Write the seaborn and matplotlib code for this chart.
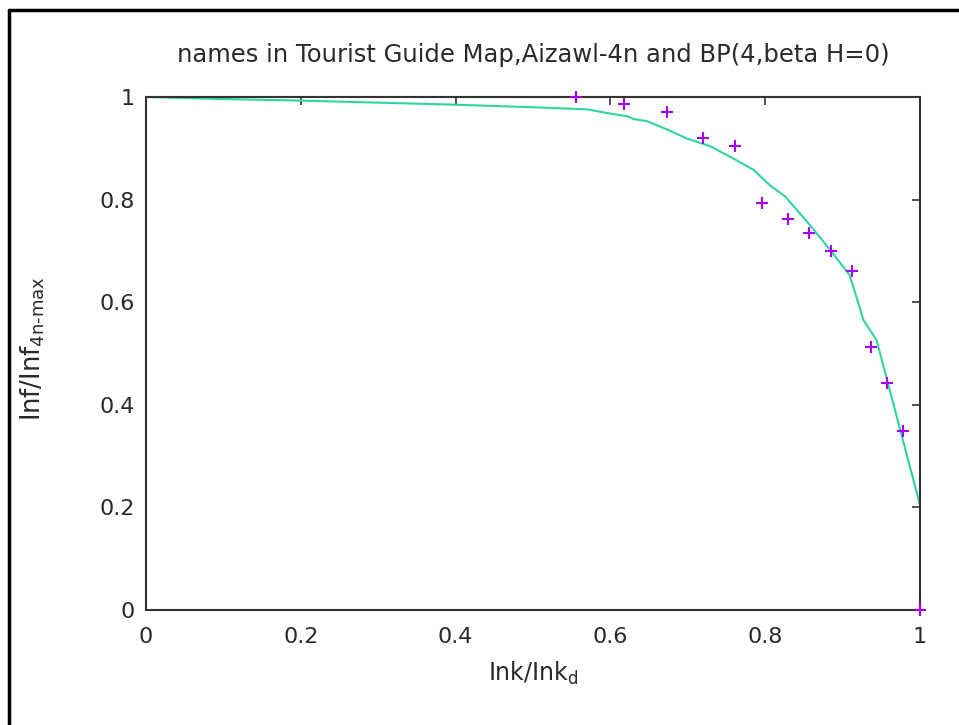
import matplotlib
matplotlib.use("Agg")
import matplotlib.pyplot as plt
import seaborn as sns
import pandas as pd
from matplotlib.lines import Line2D

# points (Aizawl-4n names)
pts_x = [0.556, 0.617, 0.673, 0.720, 0.761, 0.796, 0.829, 0.857, 0.885, 0.912,
         0.937, 0.957, 0.978, 1.0]
pts_y = [1.0, 0.986, 0.971, 0.921, 0.904, 0.793, 0.763, 0.734, 0.700, 0.661,
         0.512, 0.442, 0.349, 0.0]

# BP(4, beta H=0) curve
line_x = [0.0, 0.1, 0.2, 0.3, 0.4, 0.5, 0.57, 0.595, 0.623, 0.63, 0.647, 0.673,
          0.699, 0.729, 0.759, 0.785, 0.806, 0.826, 0.858, 0.884, 0.909, 0.918,
          0.927, 0.944, 1.0]
line_y = [1.0, 0.996, 0.993, 0.989, 0.985, 0.980, 0.976, 0.969, 0.962, 0.957,
          0.953, 0.937, 0.919, 0.904, 0.880, 0.858, 0.828, 0.806, 0.750, 0.702,
          0.653, 0.610, 0.565, 0.526, 0.205]

x_ticks = [0, 0.2, 0.4, 0.6, 0.8, 1]
x_tick_labels = ["0", "0.2", "0.4", "0.6", "0.8", "1"]
y_ticks = [0, 0.2, 0.4, 0.6, 0.8, 1]
y_tick_labels = ["0", "0.2", "0.4", "0.6", "0.8", "1"]

pts_df = pd.DataFrame({"x": pts_x, "y": pts_y})
line_df = pd.DataFrame({"x": line_x, "y": line_y})

sns.set_style("white")
plt.rcParams["font.family"] = ["DejaVu Sans"]

fig = plt.figure(figsize=(9.59, 7.25), dpi=100)
ax = fig.add_axes([0.1522, 0.1586, 0.8071, 0.7076])

sns.lineplot(data=line_df, x="x", y="y", ax=ax, color="#30d4a4", lw=1.5,
             sort=False, zorder=2)
sns.scatterplot(data=pts_df, x="x", y="y", ax=ax, marker="+", s=70,
                color="#a800f5", linewidth=1.5, zorder=3, clip_on=False)

ax.set_xlim(0, 1)
ax.set_ylim(0, 1)
ax.set_xticks(x_ticks)
ax.set_xticklabels(x_tick_labels)
ax.set_yticks(y_ticks)
ax.set_yticklabels(y_tick_labels)
ax.tick_params(direction="in", length=6, width=1.2, color="#333333",
               top=True, right=True, labelsize=16, labelcolor="#2a2a2a")
ax.tick_params(axis="x", pad=12)
ax.tick_params(axis="y", pad=8)
for s in ax.spines.values():
    s.set_visible(True)
    s.set_color("#333333")
    s.set_linewidth(1.5)

ax.set_title("names in Tourist Guide Map,Aizawl-4n and BP(4,beta H=0)",
             fontsize=17.5, color="#2a2a2a", pad=25)
ax.set_xlabel("Ink/Ink$_{\\mathrm{d}}$", fontsize=17, color="#2a2a2a")
ax.set_ylabel("Inf/Inf$_{\\mathrm{4n\\text{-}max}}$", fontsize=18.5, color="#2a2a2a")
ax.xaxis.set_label_coords(0.5, -0.098)
ax.yaxis.set_label_coords(-0.128, 0.51)

# outer frame (left and top edges only visible)
fig.add_artist(Line2D([0.009, 1.0], [0.986, 0.986], color="black", lw=2.5,
                      transform=fig.transFigure))
fig.add_artist(Line2D([0.009, 0.009], [0.0, 0.986], color="black", lw=2.5,
                      transform=fig.transFigure))

fig.savefig("out.png", dpi=100)
